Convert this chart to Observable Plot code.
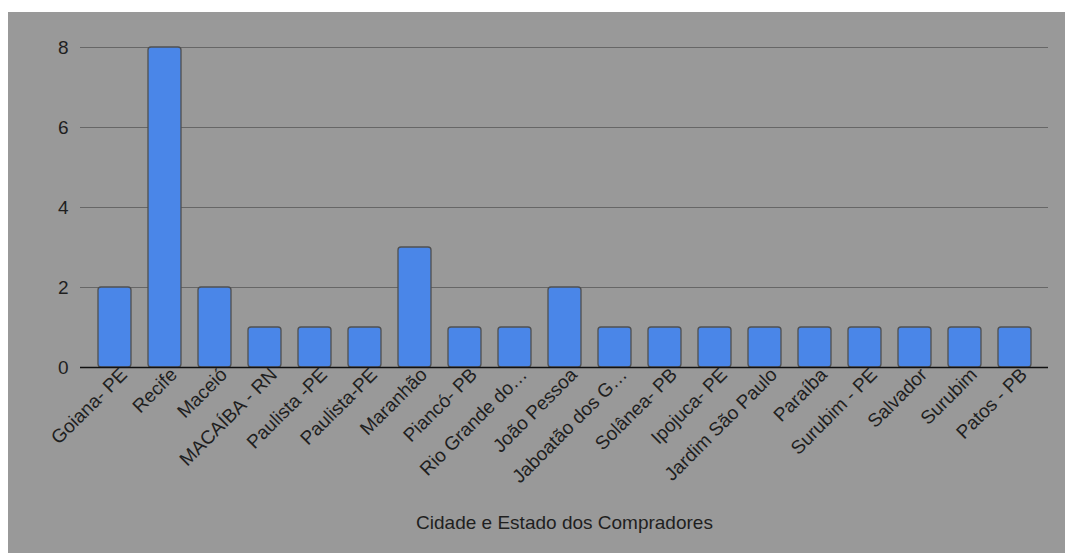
<!DOCTYPE html>
<html>
<head>
<meta charset="utf-8">
<script src="https://cdn.jsdelivr.net/npm/d3@7"></script>
<script src="https://cdn.jsdelivr.net/npm/@observablehq/plot@0.6"></script>
<style>
  html, body { margin: 0; padding: 0; background: #ffffff; }
  #chart { position: absolute; left: 8px; top: 12px; }
  #chart svg { background: #999999; display: block; }
</style>
</head>
<body>
<div id="chart"></div>
<script>
const cities = [
  "Goiana- PE", "Recife", "Maceió", "MACAÍBA - RN", "Paulista -PE", "Paulista-PE",
  "Maranhão", "Piancó- PB", "Rio Grande do…", "João Pessoa", "Jaboatão dos G…",
  "Solânea- PB", "Ipojuca- PE", "Jardim São Paulo", "Paraíba", "Surubim - PE",
  "Salvador", "Surubim", "Patos - PB"
];
const counts = [2, 8, 2, 1, 1, 1, 3, 1, 1, 2, 1, 1, 1, 1, 1, 1, 1, 1, 1];
const yTicks = [0, 2, 4, 6, 8];
const xTitle = "Cidade e Estado dos Compradores";

const data = cities.map((c, i) => ({city: c, count: counts[i]}));

const chart = Plot.plot({
  width: 1057,
  height: 541,
  marginLeft: 72,
  marginRight: 17,
  marginTop: 35,
  marginBottom: 186,
  style: {fontFamily: "Liberation Sans, Arial, sans-serif", fontSize: "19px", color: "#1f1f1f", background: "#999999"},
  x: {domain: cities, padding: 0.34, label: null},
  y: {domain: [0, 8], label: null},
  marks: [
    Plot.gridY(yTicks, {stroke: "#666666", strokeOpacity: 1, strokeWidth: 1.2}),
    Plot.barY(data, {x: "city", y: "count", fill: "#4a86e8", stroke: "#505050", strokeWidth: 1.3, rx: 3}),
    Plot.ruleY([0], {stroke: "#111111", strokeWidth: 1.5}),
    Plot.axisY(yTicks, {tickSize: 0, tickPadding: 12, label: null, fontSize: 19}),
    Plot.axisX({tickSize: 0, tickRotate: -45, tickPadding: 4, label: null, fontSize: 19, dx: 9}),
    Plot.text([xTitle], {frameAnchor: "bottom", dy: 161, fontSize: 19, fill: "#1f1f1f"})
  ]
});
document.getElementById("chart").appendChild(chart);
</script>
</body>
</html>
